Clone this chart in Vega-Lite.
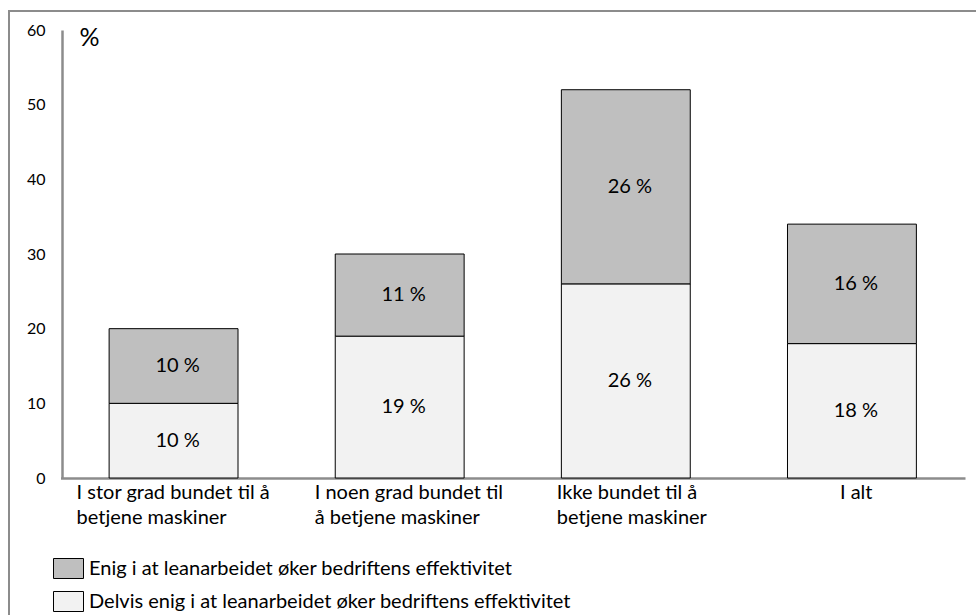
{
  "$schema": "https://vega.github.io/schema/vega-lite/v6.json",
  "width": 970,
  "height": 607,
  "autosize": {"type": "none"},
  "padding": {"left": 9, "top": 11, "right": -3, "bottom": -3},
  "background": "white",
  "config": {
    "font": "Lato",
    "view": {"stroke": "#8c8c8c", "strokeWidth": 2}
  },
  "data": {
    "values": [
      {"kategori": "I stor grad bundet til å\nbetjene maskiner", "serie": "Delvis enig i at leanarbeidet øker bedriftens effektivitet", "verdi": 10},
      {"kategori": "I stor grad bundet til å\nbetjene maskiner", "serie": "Enig i at leanarbeidet øker bedriftens effektivitet", "verdi": 10},
      {"kategori": "I noen grad bundet til\nå betjene maskiner", "serie": "Delvis enig i at leanarbeidet øker bedriftens effektivitet", "verdi": 19},
      {"kategori": "I noen grad bundet til\nå betjene maskiner", "serie": "Enig i at leanarbeidet øker bedriftens effektivitet", "verdi": 11},
      {"kategori": "Ikke bundet til å\nbetjene maskiner", "serie": "Delvis enig i at leanarbeidet øker bedriftens effektivitet", "verdi": 26},
      {"kategori": "Ikke bundet til å\nbetjene maskiner", "serie": "Enig i at leanarbeidet øker bedriftens effektivitet", "verdi": 26},
      {"kategori": "I alt", "serie": "Delvis enig i at leanarbeidet øker bedriftens effektivitet", "verdi": 18},
      {"kategori": "I alt", "serie": "Enig i at leanarbeidet øker bedriftens effektivitet", "verdi": 16}
    ]
  },
  "transform": [
    {"stack": "verdi", "groupby": ["kategori"], "sort": [{"field": "serie", "order": "ascending"}], "as": ["v0", "v1"]},
    {"calculate": "(datum.v0 + datum.v1) / 2", "as": "midt"},
    {"calculate": "datum.verdi + ' %'", "as": "etikett"}
  ],
  "encoding": {
    "x": {
      "field": "kategori",
      "type": "nominal",
      "sort": null,
      "scale": {"range": [51.5, 956], "paddingInner": 0.43, "paddingOuter": 0.215},
      "axis": {
        "orient": "bottom",
        "offset": -140,
        "title": null,
        "ticks": false,
        "tickSize": 0,
        "domainColor": "#8c8c8c",
        "domainWidth": 2.5,
        "labelAngle": 0,
        "labelAlign": "left",
        "labelBaseline": "top",
        "labelPadding": 4,
        "labelFontSize": 20,
        "labelLineHeight": 25,
        "labelColor": "black",
        "labelLimit": 0,
        "labelOverlap": false,
        "labelBound": false,
        "labelExpr": "split(datum.label, '\\n')",
        "labelOffset": {
          "condition": [
            {"test": "indexof(datum.value, 'I stor') === 0", "value": -97},
            {"test": "indexof(datum.value, 'I noen') === 0", "value": -85},
            {"test": "indexof(datum.value, 'Ikke') === 0", "value": -69}
          ],
          "value": -12
        }
      }
    }
  },
  "layer": [
    {
      "mark": {"type": "bar", "stroke": "black", "strokeWidth": 1},
      "encoding": {
        "y": {
          "field": "v1",
          "type": "quantitative",
          "scale": {"domain": [0, 60], "range": [467, 19]},
          "axis": {
            "orient": "left",
            "offset": -53,
            "values": [0, 10, 20, 30, 40, 50, 60],
            "grid": false,
            "ticks": false,
            "tickSize": 0,
            "domainColor": "#8c8c8c",
            "domainWidth": 2.5,
            "labelPadding": 17,
            "labelFontSize": 16,
            "labelColor": "black",
            "title": "%",
            "titleAngle": 0,
            "titleAlign": "left",
            "titleBaseline": "alphabetic",
            "titleX": 17,
            "titleY": 34,
            "titleFontSize": 25,
            "titleFontWeight": "normal",
            "titleColor": "black"
          }
        },
        "y2": {"field": "v0"},
        "color": {
          "field": "serie",
          "type": "nominal",
          "scale": {
            "domain": ["Enig i at leanarbeidet øker bedriftens effektivitet", "Delvis enig i at leanarbeidet øker bedriftens effektivitet"],
            "range": ["#bfbfbf", "#f2f2f2"]
          },
          "legend": {
            "orient": "none",
            "legendX": 49,
            "legendY": 547,
            "title": null,
            "padding": 0,
            "symbolType": "M-1.5,-1L1.5,-1L1.5,1L-1.5,1Z",
            "symbolSize": 400,
            "symbolStrokeColor": "black",
            "symbolStrokeWidth": 1,
            "symbolOpacity": 1,
            "labelFontSize": 20,
            "labelColor": "black",
            "labelOffset": 10,
            "labelLimit": 0,
            "rowPadding": 8
          }
        }
      }
    },
    {
      "mark": {"type": "text", "fontSize": 20, "color": "black", "dx": 4, "baseline": "middle"},
      "encoding": {
        "y": {"field": "midt", "type": "quantitative"},
        "text": {"field": "etikett"}
      }
    }
  ]
}
